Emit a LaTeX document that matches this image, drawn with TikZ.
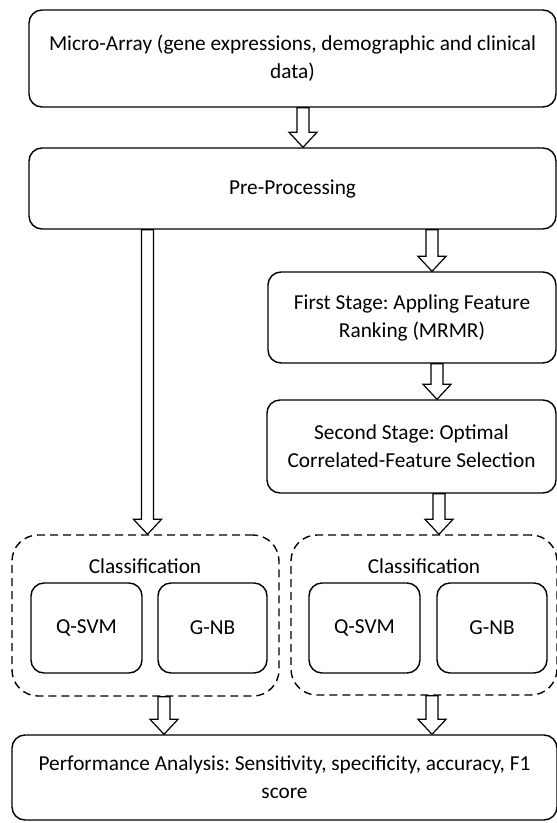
\documentclass[tikz,border=0pt]{standalone}
\usepackage{fontspec}
\setmainfont{Carlito}
\usetikzlibrary{calc}
\frenchspacing

\newcommand{\hollow}[2]{%
    \draw[arrowbody] let \p1 = (#1), \p2 = (#2) in
        (\x1-6pt,\y1) -- (\x1-6pt,\y2+15pt) -- (\x1-14pt,\y2+15pt) -- (\x1,\y2)
        -- (\x1+14pt,\y2+15pt) -- (\x1+6pt,\y2+15pt) -- (\x1+6pt,\y1) -- cycle;
}

\begin{document}
\begin{tikzpicture}[
            x=1pt, y=-1pt,
            font=\fontsize{21.3}{28}\selectfont,
            box/.style = {
                draw, line width=1.4pt, rounded corners=13pt,
                align=center, inner sep=0pt
            },
            group/.style = {
                draw, line width=1.4pt, rounded corners=26pt,
                dash pattern=on 8pt off 5pt, inner sep=0pt
            },
            arrowbody/.style = {
                draw, fill=white, line width=1.2pt, line join=miter
            }
            ]
            \useasboundingbox (0,0) rectangle (557,823);

            % Nodes
            \node[box, minimum width=527, minimum height=97] (raw) at (292.5,58.5)
                {Micro-Array (gene expressions, demographic and clinical\\data)};
            \node[box, minimum width=527, minimum height=81] (prep) at (292.5,188.5)
                {Pre-Processing};
            \node[box, minimum width=288, minimum height=91] (rank) at (412,317.5)
                {First Stage: Appling Feature\\Ranking (MRMR)};
            \node[box, minimum width=289, minimum height=93] (select) at (411.5,446.5)
                {Second Stage: Optimal\\Correlated-Feature Selection};

            \node[group, minimum width=267, minimum height=161] (clsA) at (145.5,615.5) {};
            \node[group, minimum width=266, minimum height=160] (clsB) at (424,615) {};
            \node (clsAlabel) at (145,566) {Classification};
            \node (clsBlabel) at (424,566) {Classification};

            \node[box, minimum width=111, minimum height=90] (svmA) at (86.5,628) {Q-SVM};
            \node[box, minimum width=109, minimum height=90] (nbA) at (212.5,628) {G-NB};
            \node[box, minimum width=111, minimum height=90] (svmB) at (364.5,628) {Q-SVM};
            \node[box, minimum width=110, minimum height=90] (nbB) at (492,628) {G-NB};

            \node[box, minimum width=545, minimum height=85] (perf) at (284.5,777.5)
                {Performance Analysis: Sensitivity, specificity, accuracy, F1\\score};

            % Arrows
            \hollow{[xshift=10.5]raw.south}{prep.north}
            \hollow{[xshift=-145]prep.south}{clsA.north}
            \hollow{[xshift=139.5]prep.south}{rank.north}
            \hollow{[xshift=25]rank.south}{select.north}
            \hollow{[xshift=27.5]select.south}{clsB.north}
            \hollow{[xshift=18.5]clsA.south}{perf.north}
            \hollow{[xshift=8]clsB.south}{perf.north}
        \end{tikzpicture}
\end{document}
